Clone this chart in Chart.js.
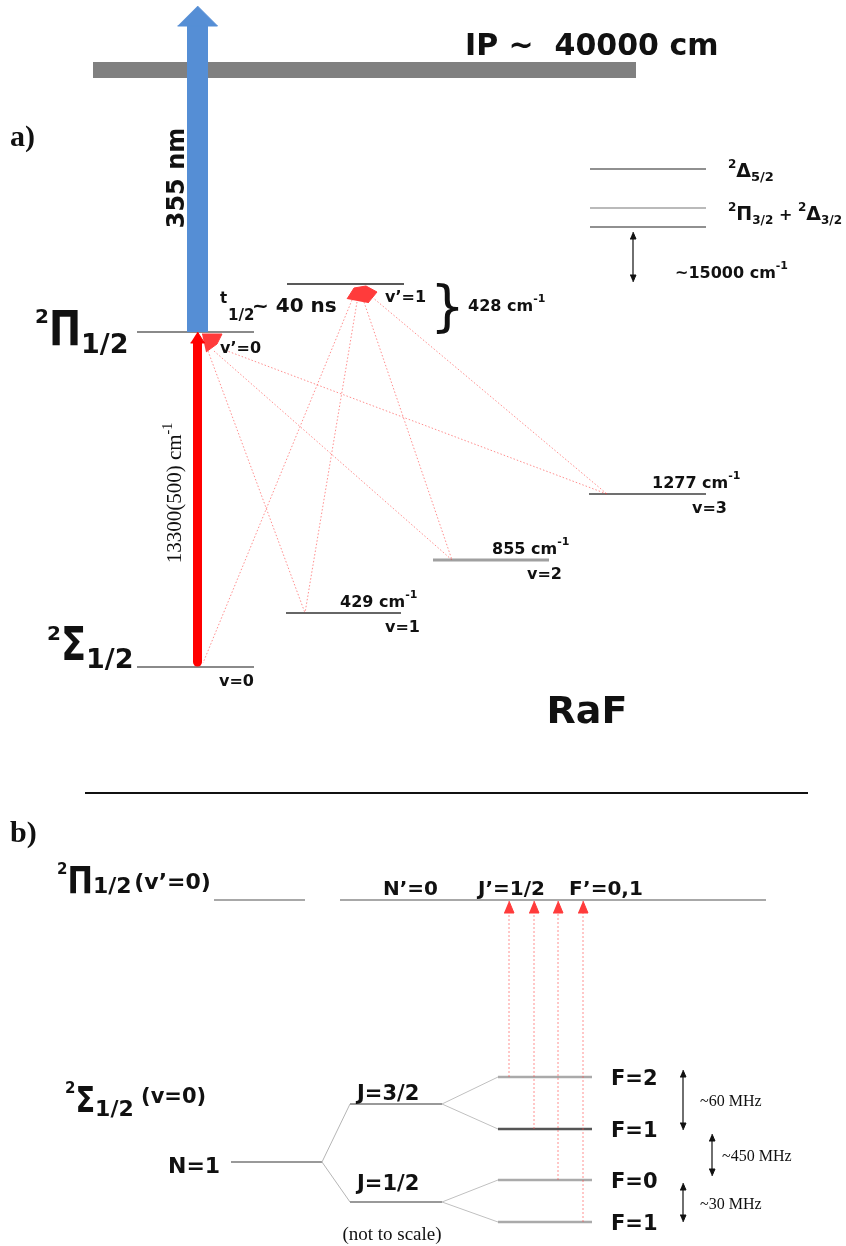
<!DOCTYPE html>
<html>
<head>
<meta charset="utf-8">
<script src="https://cdn.jsdelivr.net/npm/chart.js@4.4.1/dist/chart.umd.min.js"></script>
<style>
    html, body { margin: 0; padding: 0; background: #fff; }
    #wrap { width: 846px; height: 1246px; }
</style>
</head>
<body>
<div id="wrap"><canvas id="myChart" width="846" height="1246"></canvas></div>
<script>
// ---- panel a: RaF vibrational levels (diagram units, not to scale)
const groundLevels = ['v=0', 'v=1', 'v=2', 'v=3'];
const groundSpacing = ['', '429', '855', '1277'];      // cm-1 above v=0
const groundY = [667, 613, 560, 494];
const groundX0 = [137, 286, 433, 589];
const groundX1 = [254, 401, 549, 706];

const excitedLevels = ['v’=0', 'v’=1'];
const excitedY = [332, 284];
const excitedX0 = [137, 287];
const excitedX1 = [254, 404];

const upperY = [169, 208, 227];                        // 2Δ5/2, 2Π3/2, 2Δ3/2

// dotted decays: excited index -> ground index
const decayFrom = [0, 0, 0, 1, 1, 1, 1];
const decayTo = [1, 2, 3, 0, 1, 2, 3];
const decayStartX = [208, 214, 222, 352, 357, 364, 372];
const decayStartY = [351, 351, 349, 300, 302, 302, 297];
const decayEndX = [305, 452, 607, 203, 305, 452, 607];

// ---- panel b: hyperfine structure of X(v=0), N=1
const jLabels = ['J=3/2', 'J=1/2'];
const jY = [1104, 1202];
const hfLabels = ['F=2', 'F=1', 'F=0', 'F=1'];
const hfY = [1077, 1129, 1180, 1222];
const hfParent = [0, 0, 1, 1];
const laserX = [509, 534, 558, 583];
const splitLabels = ['~60 MHz', '~450 MHz', '~30 MHz'];
const splitTop = [1070, 1134, 1183];
const splitBottom = [1130, 1176, 1222];

const SANS = '"DejaVu Sans", sans-serif';
const SERIF = '"Liberation Serif", serif';
const f = (px, bold, fam) => (bold ? 'bold ' : '') + px + 'px ' + (fam || SANS);

// ---- dataset helpers
const datasets = [];
function seg(x0, y0, x1, y1, color, width, dash, cap) {
    datasets.push({
        data: [{ x: x0, y: y0 }, { x: x1, y: y1 }],
        showLine: true, borderColor: color, borderWidth: width,
        borderDash: dash || [], borderCapStyle: cap || 'butt',
        pointRadius: 0, fill: false
    });
}
function poly(pts, color) {
    datasets.push({
        data: pts.map(p => ({ x: p[0], y: p[1] })),
        showLine: true, borderColor: color, backgroundColor: color, borderWidth: 1,
        pointRadius: 0, fill: 'shape'
    });
}
function doubleArrow(x, y0, y1) {
    seg(x, y0 + 5, x, y1 - 5, '#111', 1.2);
    poly([[x - 3, y0 + 7], [x + 3, y0 + 7], [x, y0]], '#111');
    poly([[x - 3, y1 - 7], [x + 3, y1 - 7], [x, y1]], '#111');
}

// panel a
seg(93, 70, 636, 70, '#808080', 16);
seg(85, 793, 808, 793, '#111', 2);

const groundColors = ['#8a8a8a', '#666', '#a0a0a0', '#707070'];
groundY.forEach((y, i) => seg(groundX0[i], y, groundX1[i], y, groundColors[i], i === 2 ? 3 : 2));
seg(excitedX0[0], excitedY[0], excitedX1[0], excitedY[0], '#8a8a8a', 2);
seg(excitedX0[1], excitedY[1], excitedX1[1], excitedY[1], '#222', 1.5);
upperY.forEach((y, i) => seg(590, y, 706, y, i === 1 ? '#777' : '#222', 1.2));
doubleArrow(633, 232, 282);

decayFrom.forEach((from, i) => {
    const to = decayTo[i];
    const endY = to === 0 ? groundY[0] - 4 : groundY[to];
    seg(decayStartX[i], decayStartY[i], decayEndX[i], endY, 'rgba(255,50,50,0.55)', 1, [1.5, 2]);
});

// emission fans
poly([[202, 334], [222, 334], [217, 344], [206, 352]], '#ff3b3b');
poly([[347, 299], [354, 288], [366, 286], [377, 292], [368, 303]], '#ff3b3b');

// 355 nm ionisation arrow
seg(197.5, 332, 197.5, 25, '#558ed5', 21);
poly([[177.5, 26], [217.5, 26], [197.5, 6]], '#558ed5');

// 13300 cm-1 excitation arrow
seg(197.5, 662, 197.5, 342, '#ff0000', 9, null, 'round');
poly([[190.5, 343], [204.5, 343], [197.5, 332]], '#ff0000');

// panel b
seg(214, 900, 305, 900, '#a8a8a8', 2);
seg(340, 900, 766, 900, '#a8a8a8', 2);
seg(231, 1162, 322, 1162, '#777', 1.5);
jY.forEach(y => {
    seg(322, 1162, 350, y, '#b5b5b5', 1);
    seg(350, y, 442, y, '#999', 2);
});
hfY.forEach((y, i) => {
    seg(442, jY[hfParent[i]], 498, y, '#c0c0c0', 1);
    seg(498, y, 592, y, i === 1 ? '#555' : '#aaa', 2.5);
});
laserX.forEach((x, i) => {
    seg(x, hfY[i], x, 912, 'rgba(255,70,70,0.6)', 1, [2, 2]);
    poly([[x - 5, 913], [x + 5, 913], [x, 901]], '#ff3b3b');
});
splitTop.forEach((y, i) => doubleArrow(i === 1 ? 712 : 683, y, splitBottom[i]));

// ---- text labels: [text, font, baseline offset, x-scale]
const labels = [];
function label(x, y, parts, opt) { labels.push(Object.assign({ x, y, parts }, opt || {})); }

label(10, 146, [['a)', f(30, true, SERIF)]]);
label(465, 55, [['IP ~  40000 cm', f(30, true)]]);
label(184, 178, [['355 nm', f(24, true)]], { rot: -Math.PI / 2, align: 'center' });
label(35, 345, [['2', f(20, true), -22], ['Π', f(48, true), 0, 0.8], ['1/2', f(27, true), 8]]);
label(220, 303, [['t', f(15, true)]]);
label(228, 320, [['1/2', f(15, true)]]);
label(252, 312, [['~ 40 ns', f(20, true)]]);
label(220, 353, [[excitedLevels[0], f(16, true)]]);
label(385, 302, [[excitedLevels[1], f(16, true)]]);
label(430, 325, [['}', f(55, false)]]);
label(468, 311, [['428 cm', f(16, true)], ['-1', f(11, true), -9]]);
label(181, 493, [['13300(500) cm', f(21, false, SERIF)], ['-1', f(14, false, SERIF), -9]],
      { rot: -Math.PI / 2, align: 'center' });
label(47, 660, [['2', f(20, true), -20], ['Σ', f(46, true), 0, 0.8], ['1/2', f(27, true), 8]]);

const groundLabelX = [219, 385, 527, 692];
const spacingLabelX = [0, 340, 492, 652];
groundLevels.forEach((name, i) => {
    label(groundLabelX[i], groundY[i] + 18.5, [[name, f(16, true)]]);
    if (groundSpacing[i]) {
        label(spacingLabelX[i], groundY[i] - 6.5, [[groundSpacing[i] + ' cm', f(16, true)], ['-1', f(11, true), -9]]);
    }
});

label(728, 177, [['2', f(12, true), -9], ['Δ', f(19, true)], ['5/2', f(13, true), 4]]);
label(728, 220, [['2', f(12, true), -9], ['Π', f(19, true)], ['3/2', f(12, true), 4], [' + ', f(16, true)],
                 ['2', f(12, true), -9], ['Δ', f(19, true)], ['3/2', f(12, true), 4]]);
label(675, 278, [['~15000 cm', f(16, true)], ['-1', f(11, true), -9]]);
label(587, 723, [['RaF', f(38, true)]], { align: 'center' });

label(10, 842, [['b)', f(30, true, SERIF)]]);
label(57, 893, [['2', f(15, true), -19], ['Π', f(38, true), 0, 0.8], ['1/2', f(22, true)], [' ', f(8, true)], ['(v’=0)', f(22, true), -4]]);
label(383, 895, [['N’=0', f(20, true)]]);
label(478, 895, [['J’=1/2', f(20, true)]]);
label(569, 895, [['F’=0,1', f(20, true)]]);
label(65, 1112, [['2', f(15, true), -19], ['Σ', f(36, true), 0, 0.8], ['1/2', f(22, true), 4], [' (v=0)', f(21, true), -9]]);
label(168, 1173, [['N=1', f(22, true)]]);
jLabels.forEach((name, i) => label(357, jY[i] - (i === 0 ? 4 : 12), [[name, f(21, true)]]));
hfLabels.forEach((name, i) => label(611, hfY[i] + 7.5, [[name, f(21, true)]]));
const splitLabelX = [700, 722, 700];
splitLabels.forEach((name, i) => label(splitLabelX[i], (splitTop[i] + splitBottom[i]) / 2 + 6, [[name, f(16, false, SERIF)]]));
label(392, 1240, [['(not to scale)', f(19, false, SERIF)]], { align: 'center' });

const textPlugin = {
    id: 'diagramText',
    afterDatasetsDraw(chart) {
        const { ctx, scales: { x, y } } = chart;
        labels.forEach(l => {
            ctx.save();
            ctx.translate(x.getPixelForValue(l.x), y.getPixelForValue(l.y));
            if (l.rot) ctx.rotate(l.rot);
            ctx.fillStyle = '#111';
            ctx.textBaseline = 'alphabetic';
            ctx.textAlign = 'left';
            const widths = l.parts.map(p => { ctx.font = p[1]; return ctx.measureText(p[0]).width * (p[3] || 1); });
            let cx = l.align === 'center' ? -widths.reduce((a, b) => a + b, 0) / 2 : 0;
            l.parts.forEach((p, i) => {
                ctx.font = p[1];
                const sx = p[3] || 1;
                ctx.save();
                ctx.translate(cx, p[2] || 0);
                ctx.scale(sx, 1);
                ctx.fillText(p[0], 0, 0);
                ctx.restore();
                cx += widths[i];
            });
            ctx.restore();
        });
    }
};

const ctx = document.getElementById('myChart').getContext('2d');
new Chart(ctx, {
    type: 'scatter',
    data: { datasets: datasets.slice().reverse() },
    options: {
        responsive: false,
        animation: false,
        events: [],
        layout: { padding: 0 },
        plugins: { legend: { display: false }, tooltip: { enabled: false } },
        scales: {
            x: { type: 'linear', display: false, min: 0, max: 846 },
            y: { type: 'linear', display: false, min: 0, max: 1246, reverse: true }
        }
    },
    plugins: [textPlugin]
});
</script>
</body>
</html>
